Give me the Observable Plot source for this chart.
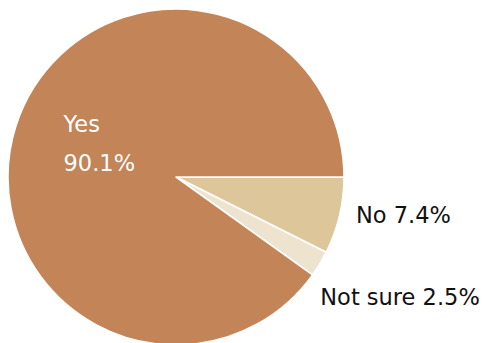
<!DOCTYPE html>
<html>
<head>
<meta charset="utf-8">
<script src="https://cdn.jsdelivr.net/npm/d3@7"></script>
<script src="https://cdn.jsdelivr.net/npm/@observablehq/plot@0.6"></script>
<style>
  html, body { margin: 0; padding: 0; background: #fff; }
  #chart { width: 488px; height: 343px; overflow: hidden; }
</style>
</head>
<body>
<div id="chart"></div>
<script>
const categories = ["No", "Not sure", "Yes"];
const values = [7.4, 2.5, 90.1];
const colors = ["#DCC69A", "#EDE3CF", "#C38457"];

const data = categories.map((c, i) => ({ label: c, value: values[i], color: colors[i] }));

const pie = d3.pie().sort(null).value(d => d.value)
  .startAngle(Math.PI / 2).endAngle(Math.PI / 2 + 2 * Math.PI);
const arcs = pie(data);

// label anchor points in unit (data) coordinates
function polar(a, r) { return { px: r * Math.sin(a), py: r * Math.cos(a) }; }
const labelRows = arcs.map(a => {
  const mid = (a.startAngle + a.endAngle) / 2;
  const inside = a.data.label === "Yes";
  const p = polar(mid, inside ? 0.5 : 1);
  return { ...p, label: a.data.label, value: a.data.value };
});

const font = "'DejaVu Sans', sans-serif";

const pieMark = (index, scales) => {
  const cx = scales.x(0), cy = scales.y(0);
  const r = scales.x(1) - scales.x(0);
  const arc = d3.arc().innerRadius(0).outerRadius(r);
  const g = d3.create("svg:g").attr("transform", `translate(${cx},${cy})`);
  g.selectAll("path").data(arcs).join("path")
    .attr("d", arc)
    .attr("fill", d => d.data.color)
    .attr("stroke", "#fff")
    .attr("stroke-width", 1.6)
    .attr("stroke-linejoin", "round");
  return g.node();
};

const yesRow = labelRows.filter(d => d.label === "Yes");
const noRow = labelRows.filter(d => d.label === "No");
const nsRow = labelRows.filter(d => d.label === "Not sure");

const fs = 22.5;
const plot = Plot.plot({
  width: 488,
  height: 343,
  margin: 0,
  x: { domain: [-1, 1], range: [8, 344], axis: null },
  y: { domain: [-1, 1], range: [345, 9], axis: null },
  style: { fontFamily: font, background: "transparent" },
  marks: [
    pieMark,
    Plot.text(yesRow, { x: "px", y: "py", text: d => d.label, textAnchor: "start", dx: -33, dy: -27, fill: "#fff", fontSize: fs, fontFamily: font }),
    Plot.text(yesRow, { x: "px", y: "py", text: d => d.value.toFixed(1) + "%", textAnchor: "start", dx: -33, dy: 12, fill: "#fff", fontSize: fs, fontFamily: font }),
    Plot.text(noRow, { x: "px", y: "py", text: d => `${d.label} ${d.value.toFixed(1)}%`, textAnchor: "start", dx: 16, dy: 0, fill: "#111", fontSize: fs, fontFamily: font }),
    Plot.text(nsRow, { x: "px", y: "py", text: d => `${d.label} ${d.value.toFixed(1)}%`, textAnchor: "start", dx: 0, dy: 33, fill: "#111", fontSize: fs, fontFamily: font })
  ]
});
document.getElementById("chart").appendChild(plot);
</script>
</body>
</html>
